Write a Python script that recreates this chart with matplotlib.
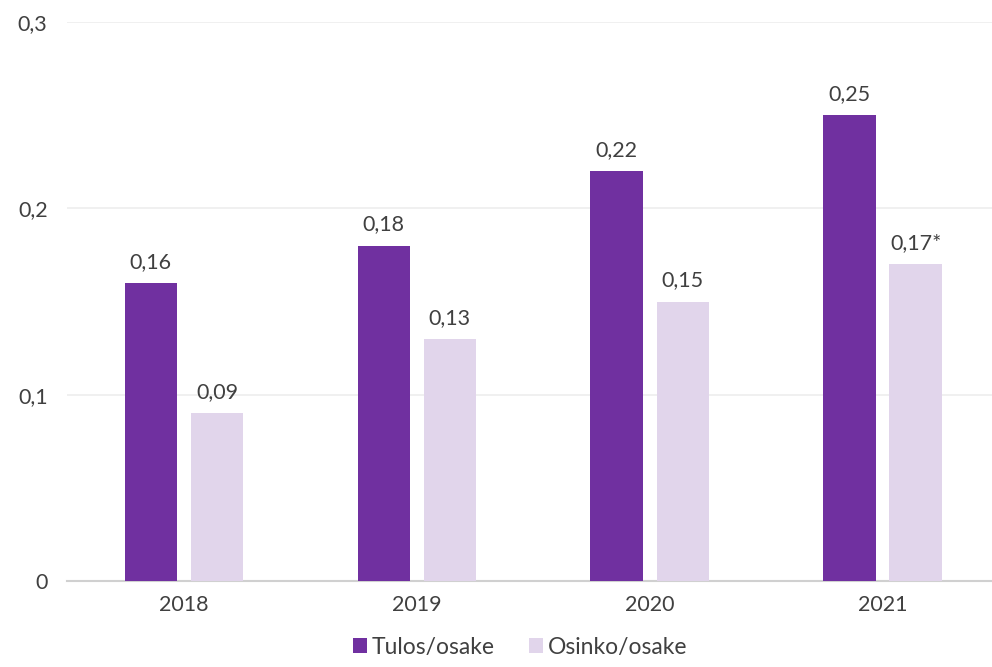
import numpy as np
import matplotlib
matplotlib.use('Agg')
import matplotlib.pyplot as plt

# Datos
vuodet = ['2018', '2019', '2020', '2021']
tulos = [0.16, 0.18, 0.22, 0.25]
osinko = [0.09, 0.13, 0.15, 0.17]
tulos_labels = ['0,16', '0,18', '0,22', '0,25']
osinko_labels = ['0,09', '0,13', '0,15', '0,17*']
y_ticks = [0, 0.1, 0.2, 0.3]
y_ticklabels = ['0', '0,1', '0,2', '0,3']

tumma = '#7030A0'
vaalea = '#E1D5EB'
teksti = '#404040'

plt.rcParams['font.family'] = ['Lato', 'DejaVu Sans']

fig = plt.figure(figsize=(9.92, 6.67), dpi=100)
ax = fig.add_axes([67 / 992, 1 - 581 / 667, 1 - 67 / 992, (581 - 22) / 667])

x = np.arange(len(vuodet))
w = 0.225
off = 0.142
b1 = ax.bar(x - off, tulos, w, color=tumma, label='Tulos/osake', zorder=3)
b2 = ax.bar(x + off, osinko, w, color=vaalea, label='Osinko/osake', zorder=3)

for rect, lab in zip(b1, tulos_labels):
    ax.annotate(lab, (rect.get_x() + rect.get_width() / 2, rect.get_height()),
                xytext=(0, 8), textcoords='offset points', ha='center', va='bottom',
                fontsize=15.5, color=teksti)
for rect, lab in zip(b2, osinko_labels):
    ax.annotate(lab, (rect.get_x() + rect.get_width() / 2, rect.get_height()),
                xytext=(0, 8), textcoords='offset points', ha='center', va='bottom',
                fontsize=15.5, color=teksti)

ax.set_xlim(-0.502, 3.47)
ax.set_ylim(0, 0.3)
ax.set_xticks(x)
ax.set_xticklabels(vuodet)
ax.set_yticks(y_ticks)
ax.set_yticklabels(y_ticklabels)
ax.tick_params(axis='both', length=0, labelsize=15.5, colors=teksti)
ax.tick_params(axis='x', pad=10)
ax.tick_params(axis='y', pad=14)
ax.yaxis.grid(True, color='#EEEEEE', linewidth=1.2, zorder=0)
for s in ['top', 'right', 'left']:
    ax.spines[s].set_visible(False)
ax.spines['bottom'].set_color('#D0D0D0')
ax.spines['bottom'].set_linewidth(1.5)

ax.legend(loc='upper center', bbox_to_anchor=(0.49, -0.075), ncol=2, frameon=False,
          fontsize=16.5, handlelength=0.6, handleheight=0.6, handletextpad=0.2,
          columnspacing=1.5, labelcolor=teksti, borderaxespad=0.2)

plt.savefig('out.png', dpi=100)
